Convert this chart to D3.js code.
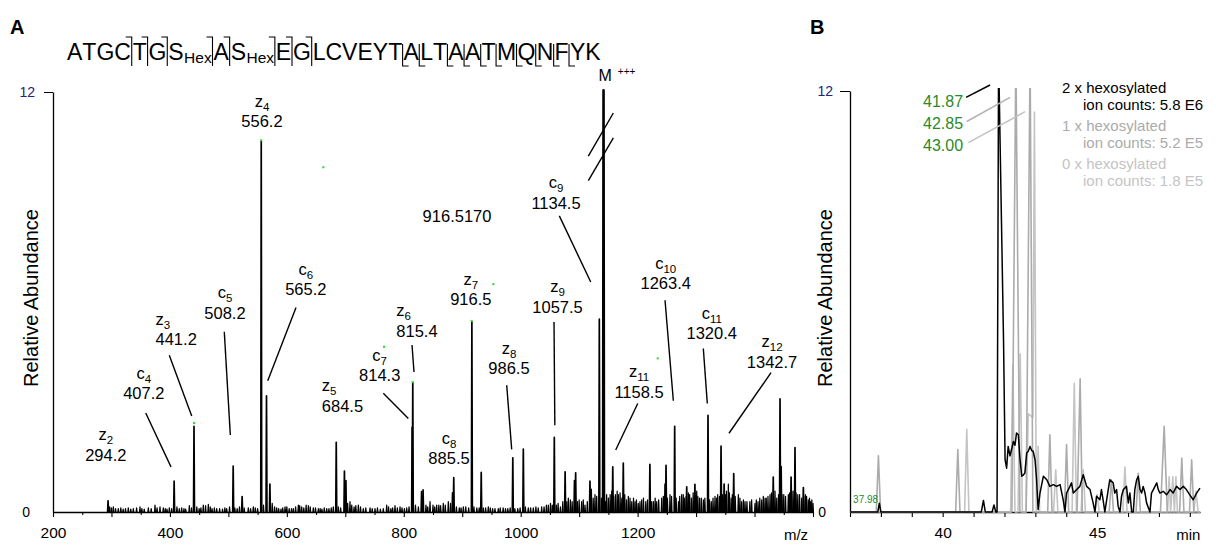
<!DOCTYPE html>
<html>
<head>
<meta charset="utf-8">
<script src="https://cdn.jsdelivr.net/npm/d3@7/dist/d3.min.js"></script>
<style>
  body { margin: 0; background: #fff; }
  svg { display: block; font-family: "Liberation Sans", Arial, Helvetica, sans-serif; }
</style>
</head>
<body>
<svg id="chart" width="1216" height="545"></svg>
<script>
// ---------- peptide and fragment sites ----------
const sequence = "ATGCTGSASEGLCVEYTALTAATMQNFYK";
const hexSites = [7, 9];                                   // hexosylated serines
const cSites = [4, 5, 6, 7, 8, 9, 10, 11];                 // c ions, cleavage after residue
const zSites = [18, 19, 21, 22, 23, 24, 25, 26, 27, 28];   // z ions, cleavage before residue

// ---------- panel A: ETD spectrum [m/z, relative abundance] ----------
const fragmentPeaks = [
  [294.2, 0.32], [407.2, 0.88], [441.2, 2.45], [508.2, 1.31], [523.5, 0.44],
  [556.2, 10.60], [565.2, 3.32], [571.0, 0.80], [684.5, 1.99], [698.5, 1.17],
  [701.0, 0.90], [814.3, 2.42], [815.4, 3.70], [830.5, 0.58], [833.0, 0.63],
  [883.5, 0.55], [885.5, 0.98], [916.5, 5.43], [932.5, 1.13], [986.5, 1.55],
  [1004.5, 1.80], [1057.5, 2.13], [1076.0, 1.15], [1092.0, 0.90], [1094.0, 1.12],
  [1118.5, 0.88], [1120.5, 0.65], [1134.5, 5.51], [1157.5, 1.29], [1175.5, 1.40],
  [1221.0, 1.36], [1247.0, 0.80], [1248.6, 1.33], [1263.4, 2.45], [1284.0, 0.72],
  [1298.0, 0.79], [1320.4, 2.76], [1342.7, 1.88], [1348.0, 0.80], [1364.4, 1.10],
  [1432.0, 1.00], [1443.6, 3.23], [1445.5, 1.30], [1462.5, 1.00], [1469.2, 1.84],
  [1483.5, 0.70]
];
const noisePeaks = [
  [297, 0.15], [300, 0.12], [303.2, 0.15], [307, 0.10], [311.7, 0.10], [316, 0.12],
  [320, 0.08], [324, 0.10], [328.8, 0.12], [333, 0.08], [337.4, 0.10], [343, 0.12],
  [348.8, 0.15], [352, 0.10], [356, 0.08], [363.1, 0.12], [368, 0.10], [374.5, 0.20],
  [378, 0.12], [383, 0.15], [388.7, 0.12], [392, 0.10], [395, 0.08], [399, 0.12],
  [403, 0.10], [412, 0.15], [416, 0.10], [420.1, 0.12], [424, 0.10], [427, 0.08],
  [433.2, 0.18], [437, 0.12], [446, 0.15], [450, 0.10], [453, 0.12], [457.1, 0.20],
  [461, 0.18], [465.7, 0.22], [469, 0.15], [472, 0.10], [476, 0.12], [480, 0.10],
  [485, 0.10], [490, 0.08], [494, 0.12], [497.1, 0.10], [502, 0.15], [511, 0.12],
  [515, 0.10], [519, 0.15], [527, 0.12], [534.1, 0.12], [538, 0.10], [542.6, 0.15],
  [546, 0.12], [550, 0.10], [560, 0.20], [575, 0.25], [579, 0.15], [582.6, 0.12],
  [586, 0.10], [590, 0.08], [593, 0.12], [596.9, 0.15], [600, 0.15], [604, 0.10],
  [608, 0.10], [611.1, 0.10], [615, 0.15], [619.7, 0.20], [622, 0.18], [625.4, 0.15],
  [629, 0.12], [633, 0.20], [636.8, 0.18], [640, 0.15], [645.3, 0.12], [649, 0.12],
  [653.9, 0.10], [657, 0.10], [660, 0.08], [664, 0.12], [668.2, 0.10], [672, 0.10],
  [676, 0.12], [679.5, 0.15], [688, 0.15], [692, 0.12], [704, 0.25], [708, 0.30],
  [711, 0.20], [715, 0.15], [718, 0.18], [722.3, 0.20], [726, 0.15], [730.8, 0.10],
  [735, 0.12], [742.3, 0.12], [746, 0.10], [750.8, 0.10], [755, 0.12], [760, 0.08],
  [765, 0.10], [770.8, 0.20], [774, 0.15], [778, 0.10], [781, 0.12], [785, 0.18],
  [789, 0.12], [793.6, 0.15], [797, 0.12], [801, 0.10], [805, 0.12], [809, 0.15],
  [820, 0.20], [825, 0.15], [838, 0.20], [841, 0.15], [844.9, 0.30], [850, 0.20],
  [853, 0.15], [856.3, 0.20], [860, 0.20], [863, 0.18], [867.6, 0.25], [871, 0.20],
  [876.2, 0.30], [880, 0.25], [890, 0.15], [895, 0.12], [898, 0.12], [901.9, 0.15],
  [906, 0.15], [911, 0.12], [920, 0.15], [925, 0.12], [929, 0.12], [936, 0.12],
  [940, 0.12], [944.6, 0.15], [948, 0.12], [952, 0.10], [956, 0.10], [961.7, 0.10],
  [965, 0.12], [970, 0.12], [974, 0.10], [978, 0.10], [982, 0.12], [990, 0.10],
  [995, 0.10], [999, 0.12], [1008, 0.15], [1013, 0.12], [1017, 0.12], [1021.6, 0.12],
  [1026, 0.15], [1030, 0.12], [1035.9, 0.15], [1040, 0.15], [1044, 0.20], [1047.3, 0.20],
  [1051, 0.25], [1054, 0.20], [1061, 0.20], [1064, 0.25], [1068, 0.15], [1072, 0.30],
  [1079, 0.30], [1081.5, 0.40], [1085, 0.35], [1088, 0.30], [1097, 0.30], [1100, 0.35],
  [1104.3, 0.30], [1107, 0.35], [1110, 0.20], [1114, 0.30], [1124, 0.40], [1127.1, 0.50],
  [1130, 0.45], [1138, 0.40], [1145, 0.30], [1147, 0.50], [1150, 0.40], [1153, 0.50],
  [1155.7, 0.60], [1159, 0.45], [1162, 0.50], [1165, 0.60], [1167, 0.50], [1170, 0.55],
  [1173, 0.40], [1178, 0.50], [1181, 0.35], [1184.1, 0.45], [1187, 0.40], [1190, 0.30],
  [1193, 0.40], [1195.6, 0.30], [1198, 0.35], [1201, 0.25], [1204, 0.30], [1207, 0.35],
  [1210, 0.40], [1214, 0.30], [1217, 0.35], [1224, 0.30], [1227, 0.30], [1230, 0.40],
  [1232.7, 0.30], [1236, 0.35], [1241.2, 0.40], [1244, 0.45], [1251, 0.40], [1255.4, 0.50],
  [1258, 0.45], [1266, 0.40], [1270, 0.30], [1272, 0.45], [1275.4, 0.50], [1278, 0.50],
  [1280, 0.40], [1283, 0.45], [1286.8, 0.55], [1289, 0.50], [1292, 0.40], [1295, 0.55],
  [1301.1, 0.60], [1303, 0.45], [1306, 0.40], [1309, 0.40], [1312.5, 0.35], [1315, 0.40],
  [1323, 0.35], [1326, 0.30], [1329, 0.40], [1332.4, 0.45], [1335, 0.40], [1337, 0.50],
  [1340, 0.45], [1345, 0.50], [1350, 0.50], [1352, 0.60], [1355.2, 0.80], [1357, 0.55],
  [1360, 0.40], [1362, 0.50], [1367, 0.45], [1372.3, 0.50], [1375, 0.40], [1378, 0.30],
  [1381, 0.35], [1383.7, 0.30], [1387, 0.30], [1392, 0.30], [1395, 0.35], [1400.8, 0.25],
  [1403, 0.35], [1406, 0.30], [1409, 0.40], [1412.3, 0.35], [1415, 0.45], [1418, 0.40],
  [1420, 0.40], [1423, 0.45], [1426.5, 0.50], [1429, 0.55], [1435, 0.60], [1438, 0.40],
  [1441, 0.50], [1447, 0.50], [1450, 0.50], [1453, 0.45], [1457.8, 0.50], [1460, 0.55],
  [1463.5, 0.60], [1466, 0.60], [1471, 0.55], [1474, 0.50], [1477, 0.50], [1480.6, 0.40],
  [1484, 0.45], [1487, 0.50], [1489, 0.45], [1491.9, 0.35], [1494, 0.40], [1496, 0.30],
  [1498, 0.35], [1500, 0.25]
];
const precursorPeak = [1141.7, 12.05];   // M+++ (off scale, axis broken)

// ion label: [ion, index, value text, label m/z, label abundance, name alignment, leader [m/z, ab, m/z, ab]]
const ionLabels = [
  ["z", "2", "294.2", 290.3, 1.46, "middle", null],
  ["c", "4", "407.2", 355.3, 3.22, "middle", [358.6, 2.83, 401.8, 1.29]],
  ["z", "3", "441.2", 410.7, 4.77, "start", [398.9, 4.48, 437.3, 2.74]],
  ["c", "5", "508.2", 494.2, 5.52, "middle", [493.0, 5.15, 503.3, 2.20]],
  ["z", "4", "556.2", 557.5, 10.99, "middle", null],
  ["c", "6", "565.2", 632.4, 6.19, "middle", [615.7, 5.84, 567.3, 3.75]],
  ["z", "5", "684.5", 695.2, 2.87, "start", null],
  ["z", "6", "815.4", 822.6, 5.01, "start", [814.1, 4.77, 817.5, 4.00]],
  ["c", "7", "814.3", 758.8, 3.74, "middle", [765.0, 3.39, 807.8, 2.67]],
  ["c", "8", "885.5", 877.4, 1.36, "middle", null],
  ["z", "7", "916.5", 914.7, 5.91, "middle", null],
  ["", "", "916.5170", 891.1, 8.28, "middle", null],
  ["z", "8", "986.5", 980.0, 3.93, "middle", [976.1, 3.62, 984.6, 1.79]],
  ["z", "9", "1057.5", 1063.0, 5.69, "middle", [1057.0, 5.43, 1058.4, 2.48]],
  ["c", "9", "1134.5", 1060.4, 8.67, "middle", [1066.1, 8.46, 1119.8, 6.57]],
  ["z", "11", "1158.5", 1202.4, 3.26, "middle", [1200.2, 3.10, 1162.5, 1.77]],
  ["c", "10", "1263.4", 1248.1, 6.36, "middle", [1246.9, 6.05, 1261.1, 3.18]],
  ["c", "11", "1320.4", 1326.8, 4.93, "middle", [1312.4, 4.67, 1319.2, 3.10]],
  ["z", "12", "1342.7", 1429.9, 4.12, "middle", [1428.2, 3.98, 1356.3, 2.25]]
];
// small green centroid markers
const centroidMarks = [
  [441.2, 2.54], [556.2, 10.62], [662.4, 9.85], [766.2, 4.72], [815.3, 3.71],
  [916.2, 5.46], [953.2, 6.51], [1234.4, 4.39]
];
// axis-break slashes across the precursor peak [m/z, ab, m/z, ab]
const breakSlashes = [[1115.7, 10.17, 1158.5, 11.40], [1115.7, 9.47, 1158.5, 10.69]];
const mzTicks = d3.range(200, 1501, 50);
const mzLabels = [200, 400, 600, 800, 1000, 1200];

// ---------- panel B: extracted ion chromatograms [min, relative abundance] ----------
const twoHex = [
  [37.0, 0], [37.9, 0], [37.95, 0.25], [38.0, 0], [41.25, 0], [41.32, 0.33], [41.38, 0],
  [41.60, 0], [41.66, 0.20], [41.72, 0], [41.76, 0], [41.81, 13], [41.97, 4.9], [42.02, 1.49],
  [42.07, 1.25], [42.12, 1.87], [42.18, 1.60], [42.23, 1.78], [42.29, 2.01], [42.34, 1.90],
  [42.39, 2.25], [42.45, 2.20], [42.50, 1.54], [42.56, 1.02], [42.61, 1.05], [42.66, 1.11],
  [42.72, 1.68], [42.77, 1.73], [42.83, 1.87], [42.88, 1.75], [42.93, 1.73], [42.99, 1.49],
  [43.04, 0.92], [43.09, 0.07], [43.15, 0.54], [43.26, 1.02], [43.37, 0.92], [43.47, 0.73],
  [43.58, 0.78], [43.69, 0.73], [43.80, 0.78], [43.90, 0.35], [43.96, 0], [44.01, 0.54],
  [44.12, 0.73], [44.17, 0.83], [44.23, 0.54], [44.34, 0.64], [44.44, 0.73], [44.55, 1.06],
  [44.66, 0.73], [44.77, 0.64], [44.87, 0.26], [44.93, 0], [44.98, 0.45], [45.09, 0.35],
  [45.14, 0.64], [45.20, 0.30], [45.25, 0], [45.31, 0.35], [45.41, 0.92], [45.52, 0.83],
  [45.57, 0.54], [45.63, 0.64], [45.68, 0.16], [45.74, 0], [45.79, 0.45], [45.85, 0.64],
  [45.95, 0.73], [46.01, 0.26], [46.06, 0.54], [46.12, 0], [46.17, 0], [46.22, 0.64],
  [46.28, 0.92], [46.33, 1.02], [46.39, 0.64], [46.44, 0.54], [46.49, 0.73], [46.55, 0.54],
  [46.60, 0.26], [46.71, 0], [46.76, 0.54], [46.82, 0.64], [46.93, 0.83], [46.98, 0.64],
  [47.03, 0.54], [47.14, 0.59], [47.25, 0.49], [47.36, 0.64], [47.46, 0.54], [47.57, 0.73],
  [47.68, 0.64], [47.79, 0.73], [47.89, 0.64], [48.00, 0.49], [48.11, 0.35], [48.22, 0.54],
  [48.33, 0.68]
];
const oneHex = [
  [37.0, 0], [37.85, 0], [37.92, 1.6], [37.99, 0], [40.42, 0], [40.49, 1.78], [40.56, 0],
  [42.24, 0], [42.37, 13], [42.50, 0], [42.70, 0], [42.83, 13], [42.92, 0],
  [43.40, 0], [43.47, 2.2], [43.54, 0], [43.94, 0], [44.01, 1.92], [44.08, 0],
  [44.35, 0], [44.45, 3.8], [44.52, 0], [45.39, 0], [45.46, 0.92], [45.53, 0],
  [46.26, 0], [46.33, 1.1], [46.40, 0], [47.05, 0], [47.17, 2.44], [47.27, 0],
  [47.67, 0], [47.74, 1.54], [47.81, 0], [47.99, 0], [48.06, 1.49], [48.13, 0], [48.33, 0]
];
const zeroHex = [
  [37.0, 0], [40.71, 0], [40.78, 2.36], [40.85, 0], [42.20, 0], [42.27, 4.2], [42.34, 0],
  [42.44, 0], [42.51, 4.5], [42.58, 0],
  [42.70, 0], [42.77, 2.8], [42.92, 2.7], [42.97, 11.4], [43.03, 0], [43.09, 1.87], [43.14, 0],
  [43.59, 0], [43.66, 1.2], [43.73, 0], [44.19, 0], [44.26, 3.67], [44.33, 0],
  [44.48, 0], [44.55, 1.2], [44.62, 0], [44.93, 0], [45.0, 0.5], [45.07, 0],
  [45.83, 0], [45.90, 1.28], [45.97, 0], [47.28, 0], [47.33, 1.0], [47.38, 0], [47.45, 1.0],
  [47.5, 0], [47.55, 1.0], [47.6, 0], [48.13, 0], [48.2, 0.6], [48.27, 0], [48.33, 0]
];
// retention-time callouts: [text, leader colour, text anchor (min, ab), leader (min, ab, min, ab)]
const rtLabels = [
  ["41.87", "#000000", 40.66, 11.53, [40.757, 11.82, 41.534, 12.17]],
  ["42.85", "#b3b3b3", 40.66, 10.91, [40.779, 11.13, 42.181, 11.82]],
  ["43.00", "#c2c2c2", 40.66, 10.29, [40.831, 10.53, 42.667, 11.41]]
];
const legendRows = [
  ["2 x hexosylated", "ion counts: 5.8 E6", "#000000"],
  ["1 x hexosylated", "ion counts: 5.2 E5", "#ababab"],
  ["0 x hexosylated", "ion counts: 1.8 E5", "#c4c4c4"]
];
const rtTicks = d3.range(37, 49, 1);
const rtLabelsShown = [40, 45];

// ---------- drawing ----------
const svg = d3.select("#chart");
const navy = "#24247a";
const green = "#2a8a2a";

const xA = d3.scaleLinear().domain([200, 1500]).range([53, 813]);
const yA = d3.scaleLinear().domain([0, 12]).range([512, 92]);
const xB = d3.scaleLinear().domain([37, 48.33]).range([850, 1200]);
const yB = d3.scaleLinear().domain([0, 12]).range([512, 91]);

// panel letters
svg.append("text").attr("x", 10).attr("y", 34).text("A")
  .style("font-size", "20px").style("font-weight", "bold");
svg.append("text").attr("x", 810).attr("y", 34).text("B")
  .style("font-size", "20px").style("font-weight", "bold");

// ----- sequence with fragment brackets -----
const seqG = svg.append("g").attr("fill", "#000");
const base = 60;
let sx = 67;
for (let i = 0; i < sequence.length; i++) {
  const pos = i + 1;
  if (zSites.includes(pos)) {
    sx += 0.4;
    seqG.append("path")
      .attr("d", `M${sx},${base - 16}V${base + 6}H${sx + 6}`)
      .attr("fill", "none").attr("stroke", "#000").attr("stroke-width", 1.1);
    sx += 0.9;
  }
  const t = seqG.append("text").attr("x", sx).attr("y", base).text(sequence[i])
    .style("font-size", "23px");
  sx += t.node().getComputedTextLength();
  if (hexSites.includes(pos)) {
    const h = seqG.append("text").attr("x", sx + 0.5).attr("y", base + 3).text("Hex")
      .style("font-size", "15.5px");
    sx += h.node().getComputedTextLength() + 0.5;
  }
  if (cSites.includes(pos)) {
    sx += 0.8;
    seqG.append("path")
      .attr("d", `M${sx - 6},${base - 23}H${sx}V${base + 6}`)
      .attr("fill", "none").attr("stroke", "#000").attr("stroke-width", 1.1);
    sx += 1.0;
  }
}

// ----- panel A axes -----
const axA = svg.append("g").attr("transform", `translate(0,${yA(0)})`)
  .call(d3.axisBottom(xA).tickValues(mzTicks).tickSize(5).tickSizeOuter(0)
    .tickFormat(d => mzLabels.includes(d) ? d : ""));
axA.selectAll(".tick line").attr("y2", d => d % 100 === 0 ? 5 : 3).attr("stroke-width", 1.1);
axA.selectAll("text").attr("y", 15).style("font-size", "15.5px")
  .style("font-family", '"Liberation Sans", Arial, sans-serif').attr("fill", "#000");
axA.select(".domain").attr("stroke-width", 1.3);
svg.append("text").attr("x", xA(1471)).attr("y", 540).attr("text-anchor", "middle")
  .text("m/z").style("font-size", "15px");

const ayA = svg.append("g").attr("transform", `translate(${xA(200)},0)`)
  .call(d3.axisLeft(yA).tickValues([12]).tickSize(9).tickSizeOuter(0));
ayA.select(".domain").attr("stroke-width", 1.3);
ayA.selectAll("text").attr("x", -18).style("font-size", "14px").attr("fill", navy)
  .style("font-family", '"Liberation Sans", Arial, sans-serif');
svg.append("text").attr("x", 30).attr("y", yA(0)).attr("dy", "0.36em")
  .attr("text-anchor", "end").text("0").style("font-size", "14px");
svg.append("text").attr("transform", `translate(37.5,298) rotate(-90)`)
  .attr("text-anchor", "middle").text("Relative Abundance").style("font-size", "20px");

// ----- spectrum -----
const peakPath = d => {
  const hw = 0.8;
  return `M${xA(d[0] - hw)},${yA(0)}L${xA(d[0])},${yA(d[1])}L${xA(d[0] + hw)},${yA(0)}`;
};
const specG = svg.append("g").attr("fill", "none").attr("stroke", "#000")
  .attr("stroke-linejoin", "round");
specG.selectAll("path.noise").data(noisePeaks).join("path").attr("class", "noise")
  .attr("d", peakPath).attr("stroke-width", 1.2);
specG.selectAll("path.frag").data(fragmentPeaks).join("path").attr("class", "frag")
  .attr("d", peakPath).attr("stroke-width", 1.7);
specG.append("path").datum(precursorPeak).attr("d", peakPath).attr("stroke-width", 2.6);

// axis break across the precursor
svg.append("g").selectAll("line").data(breakSlashes).join("line")
  .attr("x1", d => xA(d[0])).attr("y1", d => yA(d[1]))
  .attr("x2", d => xA(d[2])).attr("y2", d => yA(d[3]))
  .attr("stroke", "#000").attr("stroke-width", 1.4);

// M+++ label
const mLab = svg.append("text").attr("x", xA(precursorPeak[0]) - 5).attr("y", 81)
  .style("font-size", "16px");
mLab.append("tspan").text("M");
mLab.append("tspan").attr("dx", 6).attr("dy", -6).style("font-size", "10px").text("+++");

// centroid markers
svg.append("g").selectAll("rect").data(centroidMarks).join("rect")
  .attr("x", d => xA(d[0]) - 1).attr("y", d => yA(d[1]) - 1)
  .attr("width", 2).attr("height", 2).attr("fill", "#22dd22");

// ion labels and leaders
const labG = svg.append("g");
ionLabels.forEach(([ion, idx, val, mz, ab, align, leader]) => {
  const cx = xA(mz), by = yA(ab);
  const num = labG.append("text").attr("x", cx).attr("y", by).attr("text-anchor", "middle")
    .style("font-size", "16.5px").text(val);
  if (ion) {
    const bb = num.node().getBBox();
    const nx = align === "start" ? bb.x : cx;
    const nm = labG.append("text").attr("x", nx).attr("y", by - 20.5)
      .attr("text-anchor", align).style("font-size", "16.5px");
    nm.append("tspan").text(ion);
    nm.append("tspan").attr("dy", 4).style("font-size", "11.5px").text(idx);
  }
  if (leader) {
    labG.append("line")
      .attr("x1", xA(leader[0])).attr("y1", yA(leader[1]))
      .attr("x2", xA(leader[2])).attr("y2", yA(leader[3]))
      .attr("stroke", "#000").attr("stroke-width", 1.4);
  }
});

// ----- panel B axes -----
const axB = svg.append("g").attr("transform", `translate(0,${yB(0)})`)
  .call(d3.axisBottom(xB).tickValues(rtTicks).tickSize(5).tickSizeOuter(0)
    .tickFormat(d => rtLabelsShown.includes(d) ? d : ""));
axB.selectAll("text").attr("y", 15).style("font-size", "15.5px")
  .style("font-family", '"Liberation Sans", Arial, sans-serif').attr("fill", "#000");
axB.select(".domain").attr("stroke-width", 1.3);
axB.selectAll(".tick line").attr("stroke-width", 1.1);
svg.append("text").attr("x", xB(47.95)).attr("y", 540).attr("text-anchor", "middle")
  .text("min").style("font-size", "15px");

const ayB = svg.append("g").attr("transform", `translate(${xB(37)},0)`)
  .call(d3.axisLeft(yB).tickValues([12]).tickSize(10).tickSizeOuter(0));
ayB.select(".domain").attr("stroke-width", 1.3);
ayB.selectAll("text").attr("x", -17).style("font-size", "14px").attr("fill", navy)
  .style("font-family", '"Liberation Sans", Arial, sans-serif');
svg.append("text").attr("x", 826).attr("y", yB(0)).attr("dy", "0.36em")
  .attr("text-anchor", "end").text("0").style("font-size", "14px");
svg.append("text").attr("transform", `translate(832,298) rotate(-90)`)
  .attr("text-anchor", "middle").text("Relative Abundance").style("font-size", "20px");

// ----- chromatograms -----
svg.append("clipPath").attr("id", "clipB").append("rect")
  .attr("x", 850).attr("y", 88).attr("width", 352).attr("height", 425);
const line = d3.line().x(d => xB(d[0])).y(d => yB(d[1]));
const chromG = svg.append("g").attr("clip-path", "url(#clipB)").attr("fill", "none")
  .attr("stroke-linejoin", "round");
chromG.append("path").datum(zeroHex).attr("d", line).attr("stroke", "#c4c4c4").attr("stroke-width", 1.6);
chromG.append("path").datum(oneHex).attr("d", line).attr("stroke", "#ababab").attr("stroke-width", 1.6);
chromG.append("path").datum(twoHex).attr("d", line).attr("stroke", "#000").attr("stroke-width", 1.5);

// retention-time callouts
rtLabels.forEach(([txt, col, t, v, ld]) => {
  svg.append("text").attr("x", xB(t)).attr("y", yB(v)).attr("text-anchor", "end")
    .attr("fill", green).style("font-size", "16px").text(txt);
  svg.append("line").attr("x1", xB(ld[0])).attr("y1", yB(ld[1]))
    .attr("x2", xB(ld[2])).attr("y2", yB(ld[3]))
    .attr("stroke", col).attr("stroke-width", 1.5);
});
svg.append("text").attr("x", xB(37.1)).attr("y", 502.5).attr("fill", green)
  .style("font-size", "10px").text("37.98");

// legend: ion-count line set just under each heading
legendRows.forEach(([a, b, col], i) => {
  svg.append("text").attr("x", 1062).attr("y", 92.8 + i * 38).attr("fill", col)
    .style("font-size", "15px").text(a);
  svg.append("text").attr("x", 1083).attr("y", 110 + i * 38).attr("fill", col)
    .style("font-size", "15px").text(b);
});
</script>
</body>
</html>
